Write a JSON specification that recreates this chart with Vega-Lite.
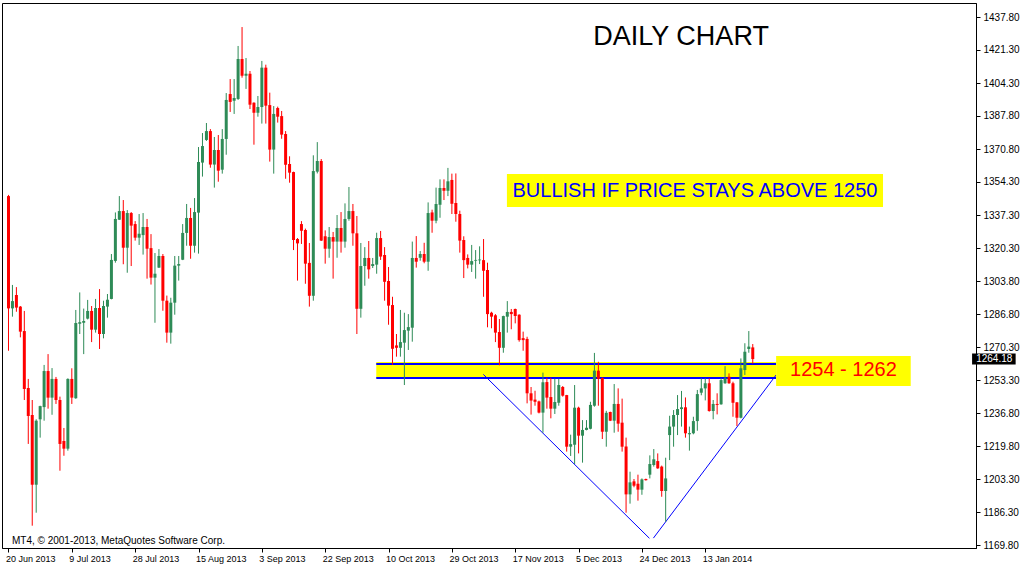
{
  "$schema": "https://vega.github.io/schema/vega-lite/v6.json",
  "width": 974,
  "height": 545,
  "autosize": {"type": "none"},
  "padding": {"left": 2, "top": 3, "right": 44, "bottom": 19},
  "background": "white",
  "config": {
    "view": {"stroke": "black", "strokeWidth": 1},
    "axis": {
      "grid": false,
      "title": null,
      "domainColor": "black",
      "tickColor": "black",
      "labelColor": "black",
      "labelFont": "Liberation Sans",
      "labelFontSize": 10,
      "tickSize": 4
    }
  },
  "datasets": {
    "candles": [
      {"i":0,"o":1346.9,"h":1347.5,"l":1268.4,"c":1289.9},
      {"i":1,"o":1289.9,"h":1301.8,"l":1285.7,"c":1293.6},
      {"i":2,"o":1296.7,"h":1300.7,"l":1288.2,"c":1290.3},
      {"i":3,"o":1290.8,"h":1291.1,"l":1275.2,"c":1278.1},
      {"i":4,"o":1278.4,"h":1288.6,"l":1243.4,"c":1249.0},
      {"i":5,"o":1249.5,"h":1254.1,"l":1221.1,"c":1235.3},
      {"i":6,"o":1235.8,"h":1243.4,"l":1179.6,"c":1200.4},
      {"i":7,"o":1200.4,"h":1233.6,"l":1186.2,"c":1232.9},
      {"i":8,"o":1233.6,"h":1240.5,"l":1224.3,"c":1240.3},
      {"i":9,"o":1239.8,"h":1261.2,"l":1232.9,"c":1258.1},
      {"i":10,"o":1258.1,"h":1266.7,"l":1239.0,"c":1244.6},
      {"i":11,"o":1244.6,"h":1259.6,"l":1235.9,"c":1254.1},
      {"i":12,"o":1254.1,"h":1255.1,"l":1241.4,"c":1243.4},
      {"i":13,"o":1243.4,"h":1245.1,"l":1207.5,"c":1221.1},
      {"i":14,"o":1222.6,"h":1229.2,"l":1215.1,"c":1218.7},
      {"i":15,"o":1218.7,"h":1254.4,"l":1217.7,"c":1254.1},
      {"i":16,"o":1254.1,"h":1259.5,"l":1241.4,"c":1244.6},
      {"i":17,"o":1244.3,"h":1289.1,"l":1244.0,"c":1282.5},
      {"i":18,"o":1282.1,"h":1298.0,"l":1276.9,"c":1282.9},
      {"i":19,"o":1282.6,"h":1289.8,"l":1266.7,"c":1283.5},
      {"i":20,"o":1284.7,"h":1294.2,"l":1284.3,"c":1288.6},
      {"i":21,"o":1288.6,"h":1291.1,"l":1272.8,"c":1279.1},
      {"i":22,"o":1279.1,"h":1294.7,"l":1277.6,"c":1290.1},
      {"i":23,"o":1290.1,"h":1299.7,"l":1269.3,"c":1276.9},
      {"i":24,"o":1276.9,"h":1293.8,"l":1274.7,"c":1291.1},
      {"i":25,"o":1290.8,"h":1297.2,"l":1285.2,"c":1294.3},
      {"i":26,"o":1294.7,"h":1317.5,"l":1294.5,"c":1314.5},
      {"i":27,"o":1314.0,"h":1338.6,"l":1313.1,"c":1335.3},
      {"i":28,"o":1334.9,"h":1346.9,"l":1334.8,"c":1339.3},
      {"i":29,"o":1339.3,"h":1344.9,"l":1312.3,"c":1320.7},
      {"i":30,"o":1320.7,"h":1339.8,"l":1308.0,"c":1338.3},
      {"i":31,"o":1338.3,"h":1338.8,"l":1311.4,"c":1331.9},
      {"i":32,"o":1332.7,"h":1334.2,"l":1324.3,"c":1325.8},
      {"i":33,"o":1325.8,"h":1337.8,"l":1322.1,"c":1327.8},
      {"i":34,"o":1327.1,"h":1338.3,"l":1317.2,"c":1331.2},
      {"i":35,"o":1331.2,"h":1335.3,"l":1305.0,"c":1320.2},
      {"i":36,"o":1320.5,"h":1327.6,"l":1302.0,"c":1305.5},
      {"i":37,"o":1305.5,"h":1318.0,"l":1282.6,"c":1307.5},
      {"i":38,"o":1310.6,"h":1320.0,"l":1310.4,"c":1316.5},
      {"i":39,"o":1316.5,"h":1317.5,"l":1288.7,"c":1293.8},
      {"i":40,"o":1293.8,"h":1296.4,"l":1272.5,"c":1277.6},
      {"i":41,"o":1277.6,"h":1295.3,"l":1272.0,"c":1292.8},
      {"i":42,"o":1292.8,"h":1316.5,"l":1286.7,"c":1311.6},
      {"i":43,"o":1311.6,"h":1316.5,"l":1304.0,"c":1312.4},
      {"i":44,"o":1314.6,"h":1332.7,"l":1314.4,"c":1328.2},
      {"i":45,"o":1328.2,"h":1342.9,"l":1321.7,"c":1335.8},
      {"i":46,"o":1335.8,"h":1340.9,"l":1315.1,"c":1321.7},
      {"i":47,"o":1321.7,"h":1345.9,"l":1318.2,"c":1338.8},
      {"i":48,"o":1338.5,"h":1371.8,"l":1317.7,"c":1364.2},
      {"i":49,"o":1363.9,"h":1378.9,"l":1356.8,"c":1372.3},
      {"i":50,"o":1375.4,"h":1384.0,"l":1374.9,"c":1379.9},
      {"i":51,"o":1379.9,"h":1380.9,"l":1361.3,"c":1362.9},
      {"i":52,"o":1362.9,"h":1376.9,"l":1351.2,"c":1370.3},
      {"i":53,"o":1370.3,"h":1377.9,"l":1354.2,"c":1359.8},
      {"i":54,"o":1360.3,"h":1380.9,"l":1358.3,"c":1375.9},
      {"i":55,"o":1375.9,"h":1399.2,"l":1367.9,"c":1395.7},
      {"i":56,"o":1398.7,"h":1406.3,"l":1389.6,"c":1394.7},
      {"i":57,"o":1395.3,"h":1406.3,"l":1388.6,"c":1396.7},
      {"i":58,"o":1396.2,"h":1423.1,"l":1395.7,"c":1416.5},
      {"i":59,"o":1416.5,"h":1432.7,"l":1407.0,"c":1408.0},
      {"i":60,"o":1408.0,"h":1417.0,"l":1401.3,"c":1409.0},
      {"i":61,"o":1409.0,"h":1410.4,"l":1391.1,"c":1393.3},
      {"i":62,"o":1394.3,"h":1394.5,"l":1373.0,"c":1389.2},
      {"i":63,"o":1389.2,"h":1397.7,"l":1387.2,"c":1392.1},
      {"i":64,"o":1392.1,"h":1415.5,"l":1383.7,"c":1412.1},
      {"i":65,"o":1412.1,"h":1413.6,"l":1383.7,"c":1392.8},
      {"i":66,"o":1393.1,"h":1399.4,"l":1364.4,"c":1370.5},
      {"i":67,"o":1370.5,"h":1392.6,"l":1358.3,"c":1388.6},
      {"i":68,"o":1391.6,"h":1392.3,"l":1384.2,"c":1387.2},
      {"i":69,"o":1387.5,"h":1390.1,"l":1376.0,"c":1378.1},
      {"i":70,"o":1378.4,"h":1379.9,"l":1355.7,"c":1362.8},
      {"i":71,"o":1363.2,"h":1367.1,"l":1353.7,"c":1358.8},
      {"i":72,"o":1359.1,"h":1359.3,"l":1319.5,"c":1324.6},
      {"i":73,"o":1325.1,"h":1325.6,"l":1304.0,"c":1322.9},
      {"i":74,"o":1332.7,"h":1334.2,"l":1322.6,"c":1329.3},
      {"i":75,"o":1329.7,"h":1330.4,"l":1302.4,"c":1312.6},
      {"i":76,"o":1313.0,"h":1323.1,"l":1290.8,"c":1296.3},
      {"i":77,"o":1296.3,"h":1367.6,"l":1293.8,"c":1359.6},
      {"i":78,"o":1359.3,"h":1374.3,"l":1358.4,"c":1364.7},
      {"i":79,"o":1364.7,"h":1365.7,"l":1324.1,"c":1324.3},
      {"i":80,"o":1326.5,"h":1329.5,"l":1312.6,"c":1320.2},
      {"i":81,"o":1320.2,"h":1331.2,"l":1315.6,"c":1326.1},
      {"i":82,"o":1326.1,"h":1328.7,"l":1305.0,"c":1323.8},
      {"i":83,"o":1323.8,"h":1337.3,"l":1315.6,"c":1330.7},
      {"i":84,"o":1330.7,"h":1338.8,"l":1318.2,"c":1323.8},
      {"i":85,"o":1323.8,"h":1343.2,"l":1320.7,"c":1335.3},
      {"i":86,"o":1335.3,"h":1351.5,"l":1334.4,"c":1339.3},
      {"i":87,"o":1339.3,"h":1342.9,"l":1321.7,"c":1328.0},
      {"i":88,"o":1328.0,"h":1336.8,"l":1276.9,"c":1289.7},
      {"i":89,"o":1289.7,"h":1323.1,"l":1285.2,"c":1311.4},
      {"i":90,"o":1311.4,"h":1321.0,"l":1301.4,"c":1315.5},
      {"i":91,"o":1315.5,"h":1324.1,"l":1305.0,"c":1309.7},
      {"i":92,"o":1311.4,"h":1315.5,"l":1310.4,"c":1312.4},
      {"i":93,"o":1312.1,"h":1328.3,"l":1307.5,"c":1325.6},
      {"i":94,"o":1325.6,"h":1329.2,"l":1314.5,"c":1316.2},
      {"i":95,"o":1317.0,"h":1321.0,"l":1293.8,"c":1303.4},
      {"i":96,"o":1303.8,"h":1310.9,"l":1281.6,"c":1291.3},
      {"i":97,"o":1291.6,"h":1295.8,"l":1261.3,"c":1269.4},
      {"i":98,"o":1271.1,"h":1276.9,"l":1265.4,"c":1269.9},
      {"i":99,"o":1269.9,"h":1289.1,"l":1265.4,"c":1272.8},
      {"i":100,"o":1272.5,"h":1287.7,"l":1251.0,"c":1278.9},
      {"i":101,"o":1278.6,"h":1287.0,"l":1268.8,"c":1280.4},
      {"i":102,"o":1280.1,"h":1323.8,"l":1273.0,"c":1315.5},
      {"i":103,"o":1315.5,"h":1326.6,"l":1310.6,"c":1313.6},
      {"i":104,"o":1315.6,"h":1319.0,"l":1314.1,"c":1317.5},
      {"i":105,"o":1317.5,"h":1323.2,"l":1312.8,"c":1313.6},
      {"i":106,"o":1313.6,"h":1343.7,"l":1309.0,"c":1338.3},
      {"i":107,"o":1338.6,"h":1340.0,"l":1328.3,"c":1334.4},
      {"i":108,"o":1334.4,"h":1351.2,"l":1333.1,"c":1342.9},
      {"i":109,"o":1342.5,"h":1355.4,"l":1335.9,"c":1351.0},
      {"i":110,"o":1351.0,"h":1355.4,"l":1344.9,"c":1349.6},
      {"i":111,"o":1349.6,"h":1361.2,"l":1346.9,"c":1354.4},
      {"i":112,"o":1355.1,"h":1358.3,"l":1337.8,"c":1343.0},
      {"i":113,"o":1343.4,"h":1358.4,"l":1333.9,"c":1337.8},
      {"i":114,"o":1337.8,"h":1339.5,"l":1318.2,"c":1324.3},
      {"i":115,"o":1324.6,"h":1326.5,"l":1305.3,"c":1314.4},
      {"i":116,"o":1315.5,"h":1317.3,"l":1310.2,"c":1312.1},
      {"i":117,"o":1312.1,"h":1322.1,"l":1308.4,"c":1313.9},
      {"i":118,"o":1314.1,"h":1319.5,"l":1305.0,"c":1314.5},
      {"i":119,"o":1314.3,"h":1321.4,"l":1312.4,"c":1314.7},
      {"i":120,"o":1314.4,"h":1325.1,"l":1295.8,"c":1309.0},
      {"i":121,"o":1309.4,"h":1313.1,"l":1280.3,"c":1287.0},
      {"i":122,"o":1287.7,"h":1288.2,"l":1279.8,"c":1285.7},
      {"i":123,"o":1286.4,"h":1287.0,"l":1272.8,"c":1277.6},
      {"i":124,"o":1277.9,"h":1284.5,"l":1261.0,"c":1269.9},
      {"i":125,"o":1269.9,"h":1286.2,"l":1267.4,"c":1286.0},
      {"i":126,"o":1285.7,"h":1293.6,"l":1277.6,"c":1288.1},
      {"i":127,"o":1288.1,"h":1289.6,"l":1279.3,"c":1287.0},
      {"i":128,"o":1289.6,"h":1289.8,"l":1282.3,"c":1286.0},
      {"i":129,"o":1286.7,"h":1286.9,"l":1273.0,"c":1273.8},
      {"i":130,"o":1274.8,"h":1278.1,"l":1268.4,"c":1273.8},
      {"i":131,"o":1274.4,"h":1275.5,"l":1241.7,"c":1246.8},
      {"i":132,"o":1246.8,"h":1250.0,"l":1236.0,"c":1243.1},
      {"i":133,"o":1243.6,"h":1248.1,"l":1240.5,"c":1242.5},
      {"i":134,"o":1242.7,"h":1243.1,"l":1236.6,"c":1237.0},
      {"i":135,"o":1237.0,"h":1257.3,"l":1226.8,"c":1252.4},
      {"i":136,"o":1252.5,"h":1254.7,"l":1239.0,"c":1244.6},
      {"i":137,"o":1244.9,"h":1254.7,"l":1234.1,"c":1239.0},
      {"i":138,"o":1239.0,"h":1254.2,"l":1236.3,"c":1242.4},
      {"i":139,"o":1242.0,"h":1254.2,"l":1240.5,"c":1251.0},
      {"i":140,"o":1250.0,"h":1250.5,"l":1245.1,"c":1245.6},
      {"i":141,"o":1245.9,"h":1246.0,"l":1217.2,"c":1219.7},
      {"i":142,"o":1219.7,"h":1225.8,"l":1215.0,"c":1221.0},
      {"i":143,"o":1220.7,"h":1251.0,"l":1210.9,"c":1239.5},
      {"i":144,"o":1239.5,"h":1240.0,"l":1216.3,"c":1225.3},
      {"i":145,"o":1225.3,"h":1233.2,"l":1211.6,"c":1228.2},
      {"i":146,"o":1228.2,"h":1233.2,"l":1228.0,"c":1229.3},
      {"i":147,"o":1228.8,"h":1242.5,"l":1228.5,"c":1240.9},
      {"i":148,"o":1240.5,"h":1267.3,"l":1240.0,"c":1258.3},
      {"i":149,"o":1258.3,"h":1262.8,"l":1240.5,"c":1254.1},
      {"i":150,"o":1254.6,"h":1254.9,"l":1223.6,"c":1227.3},
      {"i":151,"o":1227.3,"h":1237.9,"l":1219.7,"c":1236.9},
      {"i":152,"o":1237.3,"h":1237.5,"l":1232.7,"c":1232.9},
      {"i":153,"o":1232.9,"h":1251.5,"l":1226.8,"c":1241.4},
      {"i":154,"o":1241.4,"h":1249.3,"l":1227.3,"c":1231.4},
      {"i":155,"o":1231.9,"h":1244.1,"l":1217.2,"c":1219.7},
      {"i":156,"o":1219.8,"h":1224.3,"l":1186.2,"c":1195.5},
      {"i":157,"o":1195.5,"h":1207.0,"l":1190.8,"c":1201.6},
      {"i":158,"o":1202.1,"h":1203.3,"l":1199.1,"c":1199.9},
      {"i":159,"o":1200.9,"h":1205.5,"l":1192.3,"c":1197.9},
      {"i":160,"o":1197.9,"h":1203.6,"l":1195.3,"c":1203.1},
      {"i":161,"o":1203.3,"h":1203.5,"l":1202.5,"c":1202.7},
      {"i":162,"o":1205.5,"h":1215.3,"l":1203.6,"c":1210.9},
      {"i":163,"o":1210.4,"h":1218.5,"l":1209.6,"c":1213.3},
      {"i":164,"o":1212.4,"h":1216.3,"l":1208.5,"c":1208.7},
      {"i":165,"o":1209.6,"h":1210.1,"l":1194.3,"c":1197.2},
      {"i":166,"o":1197.2,"h":1214.1,"l":1181.6,"c":1203.6},
      {"i":167,"o":1225.6,"h":1235.4,"l":1212.9,"c":1229.9},
      {"i":168,"o":1229.9,"h":1238.3,"l":1219.7,"c":1235.8},
      {"i":169,"o":1235.8,"h":1245.9,"l":1225.6,"c":1238.8},
      {"i":170,"o":1238.8,"h":1248.0,"l":1229.9,"c":1239.7},
      {"i":171,"o":1239.7,"h":1244.7,"l":1224.3,"c":1226.5},
      {"i":172,"o":1226.0,"h":1229.9,"l":1217.7,"c":1226.6},
      {"i":173,"o":1226.5,"h":1234.9,"l":1226.0,"c":1232.7},
      {"i":174,"o":1232.7,"h":1248.5,"l":1227.8,"c":1246.4},
      {"i":175,"o":1247.1,"h":1254.4,"l":1245.8,"c":1249.3},
      {"i":176,"o":1249.3,"h":1254.4,"l":1243.2,"c":1251.9},
      {"i":177,"o":1251.9,"h":1254.4,"l":1237.5,"c":1237.8},
      {"i":178,"o":1237.8,"h":1243.4,"l":1233.6,"c":1241.4},
      {"i":179,"o":1241.4,"h":1246.8,"l":1236.1,"c":1240.9},
      {"i":180,"o":1241.2,"h":1254.4,"l":1241.0,"c":1253.5},
      {"i":181,"o":1251.9,"h":1260.6,"l":1251.6,"c":1254.4},
      {"i":182,"o":1255.2,"h":1256.9,"l":1251.6,"c":1251.9},
      {"i":183,"o":1251.9,"h":1252.7,"l":1234.9,"c":1242.0},
      {"i":184,"o":1242.2,"h":1242.4,"l":1230.2,"c":1234.4},
      {"i":185,"o":1234.4,"h":1264.5,"l":1234.1,"c":1259.5},
      {"i":186,"o":1258.6,"h":1272.2,"l":1256.1,"c":1267.9},
      {"i":187,"o":1269.3,"h":1278.4,"l":1267.4,"c":1270.5},
      {"i":188,"o":1270.1,"h":1271.8,"l":1261.8,"c":1264.18}
    ]
  },
  "layer": [
    {
      "data": {"values": [{"x1": 92.9, "x2": 193.9, "y1": 1254.56, "y2": 1262.68}]},
      "mark": {"type": "rect", "fill": "#FFFF00"},
      "encoding": {
        "x": {
          "field": "x1", "type": "quantitative",
          "scale": {"domain": [-0.375, 243.125], "nice": false, "zero": false},
          "axis": {
            "values": [0, 16, 32, 48, 64, 80, 96, 112, 128, 144, 160, 176],
            "tickCount": 30,
            "labelExpr": "['20 Jun 2013','9 Jul 2013','28 Jul 2013','15 Aug 2013','3 Sep 2013','22 Sep 2013','10 Oct 2013','29 Oct 2013','17 Nov 2013','5 Dec 2013','24 Dec 2013','13 Jan 2014'][round(datum.value/16)]",
            "labelAlign": "left",
            "labelBaseline": "top",
            "labelFlush": false,
            "labelOverlap": false,
            "labelPadding": 2,
            "labelOffset": -3,
            "labelFontSize": 9
          }
        },
        "x2": {"field": "x2"},
        "y": {
          "field": "y1", "type": "quantitative",
          "scale": {"domain": [1168.28, 1444.91], "nice": false, "zero": false},
          "axis": {
            "orient": "right",
            "values": [1169.8, 1186.3, 1203.3, 1219.8, 1236.8, 1253.3, 1270.3, 1286.8, 1303.8, 1320.3, 1337.3, 1354.3, 1370.8, 1387.8, 1404.3, 1421.3, 1437.8],
            "tickCount": 30,
            "format": ".2f",
            "labelOverlap": false,
            "labelFlush": false,
            "labelPadding": 3,
            "labelBaseline": "middle"
          }
        },
        "y2": {"field": "y2"}
      }
    },
    {
      "data": {"values": [{"x1": 92.9, "x2": 193.9, "y": 1261.67}, {"x1": 92.9, "x2": 193.9, "y": 1254.56}]},
      "mark": {"type": "rule", "color": "#0000FF", "strokeWidth": 2},
      "encoding": {
        "x": {"field": "x1", "type": "quantitative"},
        "x2": {"field": "x2"},
        "y": {"field": "y", "type": "quantitative"}
      }
    },
    {
      "data": {"values": [
        {"x1": 119.95, "y1": 1256.4, "x2": 161.9, "y2": 1173.2},
        {"x1": 162.9, "y1": 1173.3, "x2": 193.9, "y2": 1256.1}
      ]},
      "mark": {"type": "rule", "color": "#0000FF", "strokeWidth": 1},
      "encoding": {
        "x": {"field": "x1", "type": "quantitative"},
        "x2": {"field": "x2"},
        "y": {"field": "y1", "type": "quantitative"},
        "y2": {"field": "y2"}
      }
    },
    {
      "data": {"name": "candles"},
      "mark": {"type": "rule", "strokeWidth": 1},
      "encoding": {
        "x": {"field": "i", "type": "quantitative"},
        "y": {"field": "l", "type": "quantitative"},
        "y2": {"field": "h"},
        "color": {"condition": {"test": "datum.c >= datum.o", "value": "#2E8B57"}, "value": "#FF0000"}
      }
    },
    {
      "data": {"name": "candles"},
      "mark": {"type": "bar", "size": 3},
      "encoding": {
        "x": {"field": "i", "type": "quantitative"},
        "y": {"field": "o", "type": "quantitative"},
        "y2": {"field": "c"},
        "color": {"condition": {"test": "datum.c >= datum.o", "value": "#2E8B57"}, "value": "#FF0000"}
      }
    },
    {
      "data": {"values": [
        {"x1": 193.9, "x2": 227.9, "y1": 1250.5, "y2": 1265.73},
        {"x1": 125.9, "x2": 220.9, "y1": 1341.36, "y2": 1358.1}
      ]},
      "mark": {"type": "rect", "fill": "#FFFF00"},
      "encoding": {
        "x": {"field": "x1", "type": "quantitative"},
        "x2": {"field": "x2"},
        "y": {"field": "y1", "type": "quantitative"},
        "y2": {"field": "y2"}
      }
    },
    {
      "data": {"values": [{"x": 210.9, "y": 1258.4, "t": "1254 - 1262"}]},
      "mark": {"type": "text", "font": "Liberation Sans", "fontSize": 20, "color": "#FF0000", "align": "center", "baseline": "middle"},
      "encoding": {
        "x": {"field": "x", "type": "quantitative"},
        "y": {"field": "y", "type": "quantitative"},
        "text": {"field": "t"}
      }
    },
    {
      "data": {"values": [{"x": 173.4, "y": 1349.5, "t": "BULLISH IF PRICE STAYS ABOVE 1250"}]},
      "mark": {"type": "text", "font": "Liberation Sans", "fontSize": 20, "color": "#0000FF", "align": "center", "baseline": "middle"},
      "encoding": {
        "x": {"field": "x", "type": "quantitative"},
        "y": {"field": "y", "type": "quantitative"},
        "text": {"field": "t"}
      }
    },
    {
      "data": {"values": [{"x": 169.9, "y": 1427.65, "t": "DAILY CHART"}]},
      "mark": {"type": "text", "font": "Liberation Sans", "fontSize": 27, "color": "black", "align": "center", "baseline": "middle"},
      "encoding": {
        "x": {"field": "x", "type": "quantitative"},
        "y": {"field": "y", "type": "quantitative"},
        "text": {"field": "t"}
      }
    },
    {
      "data": {"values": [{"x": 0.875, "y": 1171.8, "t": "MT4, © 2001-2013, MetaQuotes Software Corp."}]},
      "mark": {"type": "text", "font": "Liberation Sans", "fontSize": 10, "color": "black", "align": "left", "baseline": "middle"},
      "encoding": {
        "x": {"field": "x", "type": "quantitative"},
        "y": {"field": "y", "type": "quantitative"},
        "text": {"field": "t"}
      }
    },
    {
      "data": {"values": [{"x1": 243.4, "x2": 254.4, "y1": 1261.4, "y2": 1267.0}]},
      "mark": {"type": "rect", "fill": "black"},
      "encoding": {
        "x": {"field": "x1", "type": "quantitative"},
        "x2": {"field": "x2"},
        "y": {"field": "y1", "type": "quantitative"},
        "y2": {"field": "y2"}
      }
    },
    {
      "data": {"values": [{"x": 249.0, "y": 1264.18, "t": "1264.18"}]},
      "mark": {"type": "text", "font": "Liberation Sans", "fontSize": 10, "color": "white", "align": "center", "baseline": "middle"},
      "encoding": {
        "x": {"field": "x", "type": "quantitative"},
        "y": {"field": "y", "type": "quantitative"},
        "text": {"field": "t"}
      }
    }
  ]
}
